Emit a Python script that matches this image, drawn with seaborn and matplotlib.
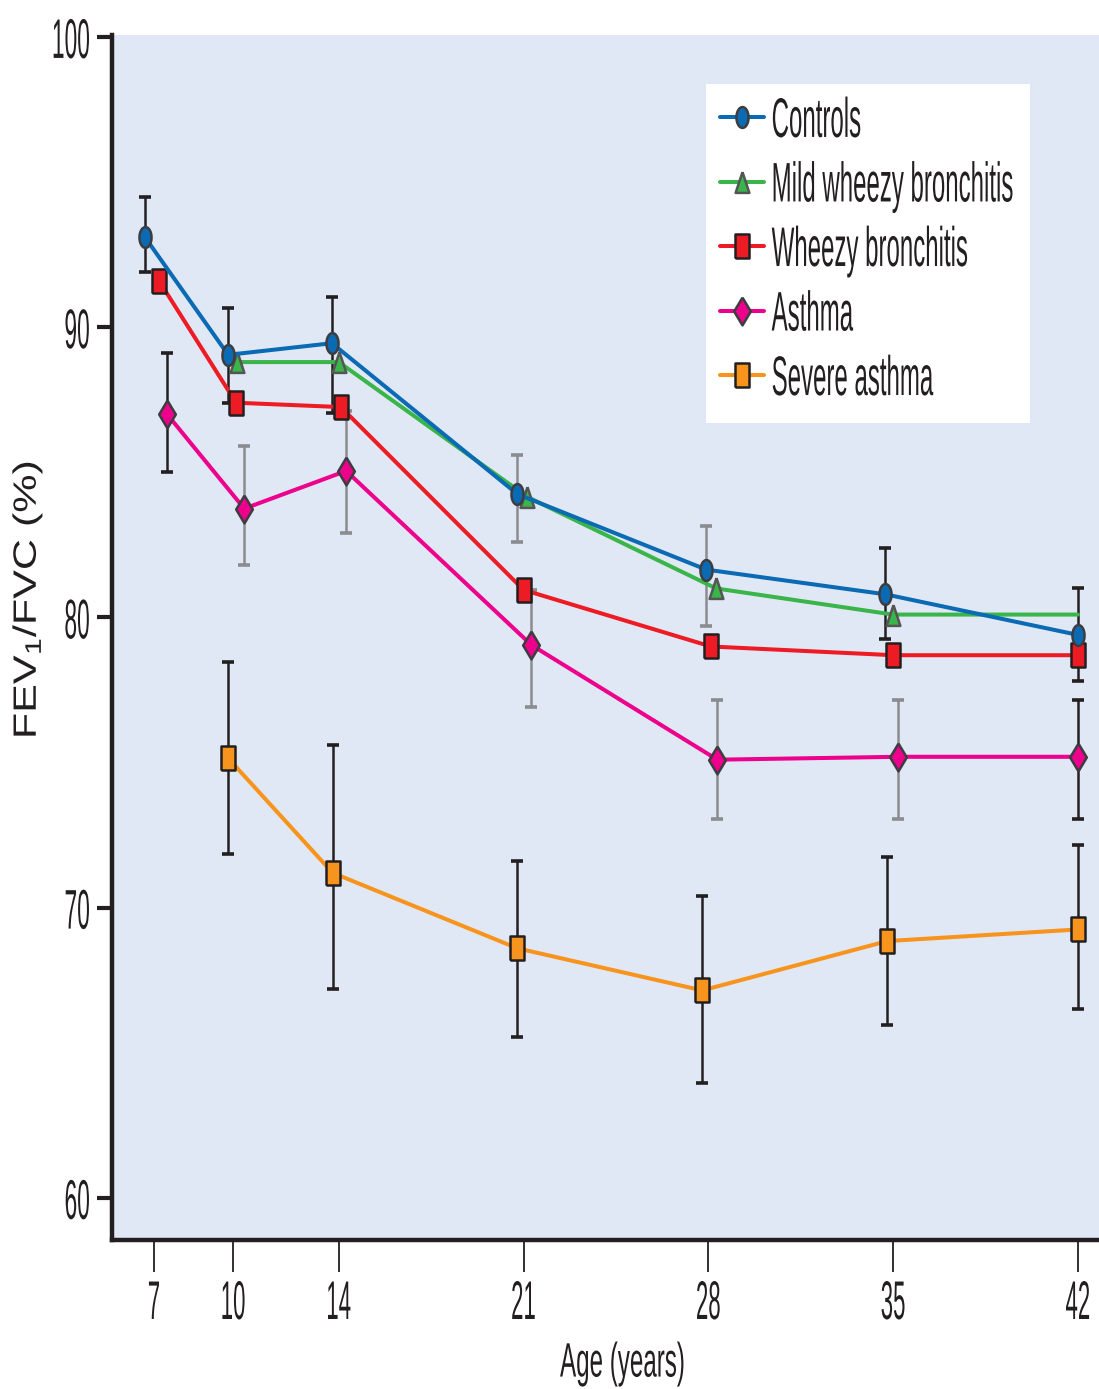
import numpy as np
import matplotlib
matplotlib.use("Agg")
import matplotlib.pyplot as plt
import matplotlib.patheffects as pe
from matplotlib.transforms import Affine2D
from matplotlib.patches import Rectangle
import seaborn as sns

# --- data ---
ages = [7, 10, 14, 21, 28, 35, 42]

controls_x = [6.66, 9.81, 13.74, 20.77, 27.92, 34.70, 42.0]
controls_y = [93.1, 89.05, 89.45, 84.25, 81.65, 80.8, 79.4]
controls_hi = [94.5, 90.65, 91.05, 85.6, 83.15, 82.4, 81.0]
controls_lo = [91.9, 87.4, 87.05, 82.6, 79.7, 79.25, 77.8]
controls_ecol = ['k', 'k', 'k', 'g', 'g', 'k', 'k']

mild_x = [10.15, 14.0, 21.15, 28.3, 35.0, 42.0]
mild_y = [88.8, 88.8, 84.15, 81.0, 80.1, 80.1]

wheezy_x = [7.19, 10.11, 14.08, 21.0, 28.1, 35.0, 42.0]
wheezy_y = [91.6, 87.4, 87.25, 80.95, 79.0, 78.7, 78.7]

asthma_x = [7.5, 10.42, 14.28, 21.3, 28.34, 35.2, 42.0]
asthma_y = [87.0, 83.75, 85.05, 79.05, 75.1, 75.2, 75.2]
asthma_hi = [89.1, 85.9, 87.1, 80.95, 77.15, 77.15, 77.15]
asthma_lo = [85.0, 81.8, 82.9, 76.9, 73.05, 73.05, 73.05]
asthma_ecol = ['k', 'g', 'g', 'g', 'g', 'g', 'k']

severe_x = [9.81, 13.77, 20.77, 27.77, 34.78, 42.0]
severe_y = [75.15, 71.2, 68.6, 67.15, 68.85, 69.25]
severe_hi = [78.45, 75.6, 71.6, 70.4, 71.75, 72.15]
severe_lo = [71.85, 67.2, 65.55, 63.95, 65.95, 66.5]
severe_ecol = ['k'] * 6

labels = ['Controls', 'Mild wheezy bronchitis', 'Wheezy bronchitis',
          'Asthma', 'Severe asthma']
colors = ['#0a6ab4', '#3ab54a', '#ed1c24', '#ec008c', '#f7941d']

BG = '#e1e8f5'
INK = '#231f20'
GREY = '#8a8c8f'


# the original artwork is squashed sideways, so its type looks tall and narrow:
# draw small text and stretch the glyphs vertically about mid cap height
class Stretch(pe.AbstractPathEffect):
    def __init__(self, sy=2.4, sx=1.0):
        super().__init__()
        self.sx, self.sy = sx, sy

    def draw_path(self, renderer, gc, tpath, affine, rgbFace=None):
        pre = Affine2D().translate(0, -36).scale(self.sx, self.sy).translate(0, 36)
        renderer.draw_path(gc, tpath, pre + affine, rgbFace)


def ellipse(w):
    t = np.linspace(0, 2 * np.pi, 60)
    return list(zip(w * np.cos(t), 0.5 * np.sin(t)))


mk_circle = ellipse(0.29)
mk_rect = [(-0.27, -0.5), (0.27, -0.5), (0.27, 0.5), (-0.27, 0.5), (-0.27, -0.5)]
mk_tri = [(0, 0.5), (-0.33, -0.5), (0.33, -0.5), (0, 0.5)]
mk_diam = [(0, 0.5), (-0.3, 0), (0, -0.5), (0.3, 0), (0, 0.5)]

sns.set_theme(style='ticks')
plt.rcParams['font.family'] = ['Liberation Sans', 'DejaVu Sans']
plt.rcParams['mathtext.fontset'] = 'custom'
plt.rcParams['mathtext.rm'] = 'Liberation Sans'
plt.rcParams['mathtext.it'] = 'Liberation Sans'

fig = plt.figure(figsize=(10.99, 13.89), dpi=100)
ax = fig.add_axes([0.10191, 0.10727, 0.89809, 0.86753])
ax.set_facecolor(BG)

# error bars (under the lines)
for xs, ys, lo, hi, ec in [(controls_x, controls_y, controls_lo, controls_hi, controls_ecol),
                           (asthma_x, asthma_y, asthma_lo, asthma_hi, asthma_ecol),
                           (severe_x, severe_y, severe_lo, severe_hi, severe_ecol)]:
    for x, y, l, h, c in zip(xs, ys, lo, hi, ec):
        ax.errorbar(x, y, yerr=[[y - l], [h - y]], fmt='none',
                    ecolor=INK if c == 'k' else GREY,
                    elinewidth=1.8, capsize=4.5, capthick=2.6, zorder=2)

series = [
    (controls_x, controls_y, mk_circle, 15, '#3d3d40', None),
    (mild_x, mild_y, mk_tri, 15, '#555555', [0, 1, 2, 3, 4]),
    (wheezy_x, wheezy_y, mk_rect, 17.5, INK, None),
    (asthma_x, asthma_y, mk_diam, 20, '#3d3d40', None),
    (severe_x, severe_y, mk_rect, 17.5, INK, None),
]
handles = {}
for i in [4, 3, 2, 1, 0]:
    xs, ys, mk, ms, mec, mev = series[i]
    sns.lineplot(x=xs, y=ys, ax=ax, sort=False, color=colors[i], lw=2.9,
                 marker=mk, markersize=ms, markerfacecolor=colors[i],
                 markeredgecolor=mec, markeredgewidth=1.8,
                 markevery=mev, zorder=3 + (5 - i) * 0.1, label=labels[i])
    handles[i] = ax.lines[-1]
if ax.get_legend() is not None:
    ax.get_legend().remove()

ax.set_xlim(5.41, 42.8)
ax.set_ylim(58.55, 100.07)
ax.set_xticks(ages)
ax.set_xticklabels([str(a) for a in ages])
ax.set_yticks([60, 70, 80, 90, 100])
ax.set_yticklabels(['60', '70', '80', '90', '100'])

for s in ['top', 'right']:
    ax.spines[s].set_visible(False)
for s in ['left', 'bottom']:
    ax.spines[s].set_linewidth(3.2)
    ax.spines[s].set_color(INK)

ax.tick_params(axis='x', length=23, width=1.3, color=INK, pad=14,
               labelsize=16, labelcolor=INK)
ax.tick_params(axis='y', length=11, width=3, color=INK, pad=5,
               labelsize=16.4, labelcolor=INK)
for lab in ax.get_xticklabels():
    lab.set_path_effects([Stretch(2.45)])
for lab in ax.get_yticklabels():
    lab.set_path_effects([Stretch(2.45)])

ax.set_xlabel('Age (years)', fontsize=17.4, color=INK)
ax.xaxis.label.set_path_effects([Stretch(2.0)])
ax.xaxis.set_label_coords(0.517, -0.092)

ax.set_ylabel('FEV$_1$/FVC (%)', fontsize=31, color=INK)
ax.yaxis.label.set_path_effects([Stretch(0.75)])
ax.yaxis.set_label_coords(-0.062, 0.531)

# legend on a white panel
ax.add_patch(Rectangle((0.6018, 0.678), 0.3283, 0.2813, transform=ax.transAxes,
                       facecolor='white', edgecolor='none', zorder=4))
leg = ax.legend([handles[i] for i in range(5)], labels, loc='upper left',
                bbox_to_anchor=(0.616, 0.939), frameon=False, fontsize=17.3,
                handlelength=1.85, handletextpad=0.3, labelspacing=1.77,
                borderpad=0, borderaxespad=0)
leg.set_zorder(5)
for t in leg.get_texts():
    t.set_color(INK)
    t.set_path_effects([Stretch(2.32)])

fig.savefig('out.png', dpi=100, facecolor='white')
